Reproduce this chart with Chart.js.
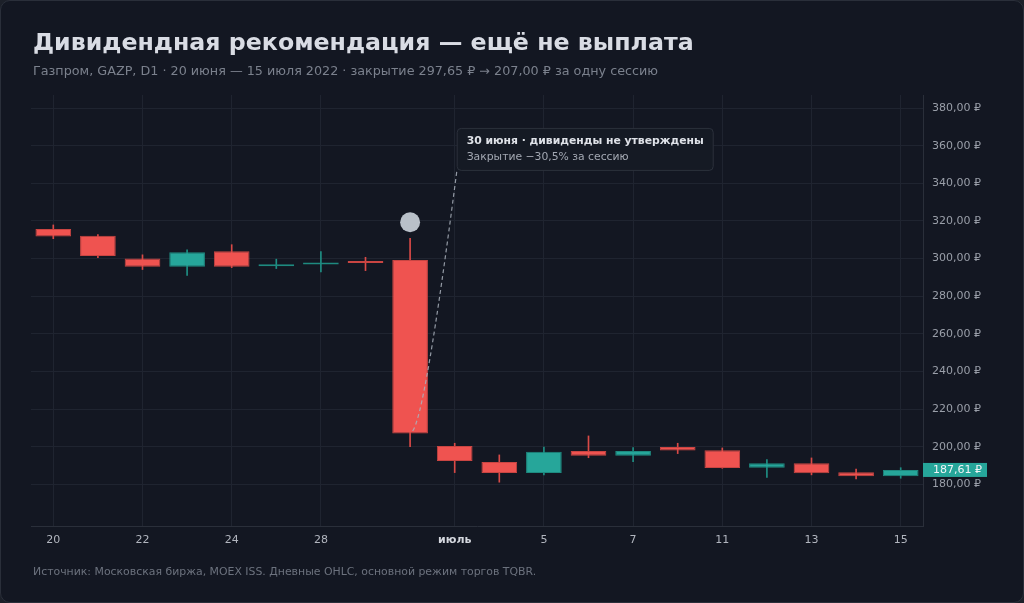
<!DOCTYPE html>
<html lang="ru">
<head>
<meta charset="utf-8">
<title>GAZP — дивидендная рекомендация</title>
<script src="https://cdn.jsdelivr.net/npm/chart.js@4.4.1/dist/chart.umd.min.js"></script>
<style>
    html, body { margin: 0; padding: 0; background: #1c2029; }
    .card {
        position: absolute; left: 0; top: 0; width: 1022px; height: 601px;
        background: #131722; border: 1px solid #2a2f3a; border-radius: 10px;
        font-family: "DejaVu Sans", sans-serif; overflow: hidden;
    }
    .title { position: absolute; left: 32px; top: 26px; font-size: 23.7px; font-weight: bold; color: #d9dce4; line-height: 30px; white-space: nowrap; }
    .subtitle { position: absolute; left: 32px; top: 62px; font-size: 12.75px; color: #7b818d; line-height: 16px; white-space: nowrap; }
    .footer { position: absolute; left: 32px; top: 563px; font-size: 10.9px; color: #6c727e; line-height: 15px; white-space: nowrap; }
    .chart-box { position: absolute; left: -1px; top: -1px; width: 1024px; height: 603px; }
</style>
</head>
<body>
<div class="card">
    <div class="chart-box"><canvas id="chart"></canvas></div>
    <div class="title">Дивидендная рекомендация — ещё не выплата</div>
    <div class="subtitle">Газпром, GAZP, D1 · 20 июня — 15 июля 2022 · закрытие 297,65 ₽ → 207,00 ₽ за одну сессию</div>
    <div class="footer">Источник: Московская биржа, MOEX ISS. Дневные OHLC, основной режим торгов TQBR.</div>
</div>
<script>
// trading days, 20 June - 15 July 2022
const days = ["2022-06-20", "2022-06-21", "2022-06-22", "2022-06-23", "2022-06-24",
    "2022-06-27", "2022-06-28", "2022-06-29", "2022-06-30", "2022-07-01",
    "2022-07-04", "2022-07-05", "2022-07-06", "2022-07-07", "2022-07-08",
    "2022-07-11", "2022-07-12", "2022-07-13", "2022-07-14", "2022-07-15"];
const tickLabels = ["20", "", "22", "", "24", "", "28", "", "", "июль",
    "", "5", "", "7", "", "11", "", "13", "", "15"];

const open  = [315.8, 312.2, 300.0, 295.6, 303.9, 295.9, 296.8, 298.1, 299.3, 200.4,
               191.9, 186.0, 197.7, 195.2, 199.8, 198.1, 188.8, 191.2, 186.4, 184.3];
const high  = [317.9, 312.8, 302.0, 304.6, 307.4, 299.7, 303.7, 300.7, 310.8, 201.8,
               195.6, 199.8, 205.7, 199.5, 201.8, 199.3, 193.1, 194.0, 188.1, 188.8];
const low   = [310.6, 300.5, 294.2, 291.0, 295.2, 294.7, 292.9, 293.6, 200.0, 186.2,
               181.1, 185.0, 194.1, 192.0, 196.3, 188.5, 183.7, 185.0, 182.8, 183.2];
const close = [311.7, 301.4, 295.6, 303.4, 295.7, 296.2, 297.2, 297.65, 207.0, 192.4,
               186.0, 197.3, 195.2, 197.7, 197.9, 188.7, 191.2, 185.9, 184.3, 187.61];

const yTicks = [180, 200, 220, 240, 260, 280, 300, 320, 340, 360, 380];
const eventIndex = 8; // 30 июня

const UP = "#26a69a", DOWN = "#ef5350";
const isUp = close.map((c, i) => c >= open[i]);

function rub(v) {
    return v.toFixed(2).replace(".", ",") + " ₽";
}

// annotation, marker and last price label
const overlay = {
    id: "overlay",
    afterDatasetsDraw(chart) {
        const ctx = chart.ctx;
        const x = chart.scales.x, y = chart.scales.y;
        const area = chart.chartArea;

        // marker above the event candle
        ctx.save();
        ctx.fillStyle = "#b9c0c9";
        ctx.beginPath();
        ctx.arc(x.getPixelForValue(eventIndex), y.getPixelForValue(high[eventIndex]) - 16, 10, 0, Math.PI * 2);
        ctx.fill();

        // callout box
        const line1 = "30 июня · дивиденды не утверждены";
        const line2 = "Закрытие −30,5% за сессию";
        ctx.font = "bold 10.8px 'DejaVu Sans'";
        const w = ctx.measureText(line1).width + 19;
        const bx = x.getPixelForValue(eventIndex + 1) + 2;
        const by = y.getPixelForValue(369.5);
        const bh = 42;

        // dashed leader to the close
        const ex = x.getPixelForValue(eventIndex) + 2;
        const ey = y.getPixelForValue(close[eventIndex]) - 2;
        ctx.strokeStyle = "rgba(170,177,188,0.85)";
        ctx.lineWidth = 1.2;
        ctx.setLineDash([4, 3]);
        ctx.beginPath();
        ctx.moveTo(bx, by + bh + 2);
        ctx.quadraticCurveTo(bx - 32, ey - 12, ex, ey);
        ctx.stroke();
        ctx.setLineDash([]);

        ctx.lineWidth = 1;
        ctx.fillStyle = "#151a24";
        ctx.strokeStyle = "#2c313c";
        ctx.beginPath();
        ctx.roundRect(bx + 0.5, by + 0.5, w, bh, 4);
        ctx.fill();
        ctx.stroke();

        ctx.textBaseline = "middle";
        ctx.textAlign = "left";
        ctx.fillStyle = "#dfe2e8";
        ctx.fillText(line1, bx + 10, by + 13);
        ctx.font = "10.8px 'DejaVu Sans'";
        ctx.fillStyle = "#a3a8b2";
        ctx.fillText(line2, bx + 10, by + 29);

        // last price tag on the axis
        const last = close[close.length - 1];
        const ly = y.getPixelForValue(last);
        ctx.fillStyle = isUp[isUp.length - 1] ? UP : DOWN;
        ctx.fillRect(area.right, ly - 7, 64, 14);
        ctx.fillStyle = "#f2f4f7";
        ctx.font = "11px 'DejaVu Sans'";
        ctx.fillText(rub(last), area.right + 10, ly);
        ctx.restore();
    }
};

Chart.defaults.font.family = "'DejaVu Sans', sans-serif";

new Chart(document.getElementById("chart"), {
    type: "bar",
    data: {
        labels: days,
        datasets: [{
            label: "body",
            data: open.map((o, i) => [o, close[i]]),
            backgroundColor: isUp.map(u => u ? UP : DOWN),
            borderColor: isUp.map(u => u ? "#1e8a80" : "#c94542"),
            borderWidth: 1,
            borderSkipped: false,
            minBarLength: 2,
            barPercentage: 0.8,
            categoryPercentage: 1
        }, {
            label: "wick",
            data: low.map((l, i) => [l, high[i]]),
            backgroundColor: isUp.map(u => u ? "#1f8f84" : "#d94a47"),
            barThickness: 1
        }]
    },
    options: {
        responsive: true,
        maintainAspectRatio: false,
        animation: false,
        grouped: false,
        layout: { padding: { left: 31, top: 95, right: 0, bottom: 47 } },
        plugins: {
            legend: { display: false },
            tooltip: { enabled: false }
        },
        scales: {
            x: {
                offset: true,
                afterFit: s => { s.height = 30; },
                grid: {
                    offset: false,
                    drawTicks: false,
                    color: c => (c.index !== undefined && tickLabels[c.index]) ? "#1f2430" : "rgba(0,0,0,0)"
                },
                border: { color: "#2a2f3a" },
                ticks: {
                    autoSkip: false,
                    maxRotation: 0,
                    padding: 8,
                    color: c => tickLabels[c.index] === "июль" ? "#d4d7de" : "#b2b6bf",
                    font: c => ({ size: 11, weight: tickLabels[c.index] === "июль" ? "bold" : "normal" }),
                    callback: (v, i) => tickLabels[i]
                }
            },
            y: {
                position: "right",
                min: 157.8,
                max: 387,
                afterFit: s => { s.width = 101; },
                afterBuildTicks: s => { s.ticks = yTicks.map(v => ({ value: v })); },
                grid: { color: "#1f2430", drawTicks: false },
                border: { color: "#2a2f3a" },
                ticks: {
                    padding: 9,
                    color: "#9a9fa9",
                    font: { size: 11 },
                    callback: v => rub(v)
                }
            }
        }
    },
    plugins: [overlay]
});
</script>
</body>
</html>
